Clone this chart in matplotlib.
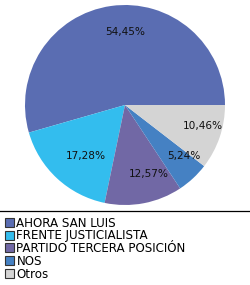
import matplotlib.pyplot as plt
from matplotlib.lines import Line2D
from matplotlib.patches import Rectangle

partidos = ["AHORA SAN LUIS", "FRENTE JUSTICIALISTA", "PARTIDO TERCERA POSICIÓN", "NOS", "Otros"]
porcentajes = [54.45, 17.28, 12.57, 5.24, 10.46]
colores = ["#5A6DB2", "#33BDEE", "#7168A5", "#4581C3", "#D4D4D4"]

W, H = 250, 285
fig = plt.figure(figsize=(W / 100, H / 100), dpi=100)
fig.patch.set_facecolor("white")

# area del grafico de torta
ax = fig.add_axes([25 / W, 1 - 205 / H, 200 / W, 200 / H])
wedges, textos, pcts = ax.pie(
    porcentajes,
    colors=colores,
    startangle=0,
    counterclock=True,
    autopct=lambda p: f"{p:.2f}%".replace(".", ","),
    pctdistance=0.72,
    wedgeprops={"linewidth": 0},
    textprops={"fontsize": 7.6, "color": "#111111"},
)
# las etiquetas del original estan corridas un poco a la derecha
for t in pcts:
    x, y = t.get_position()
    t.set_position((x + 0.1, y + 0.02))
ax.set_xlim(-1, 1)
ax.set_ylim(-1, 1)
ax.set_aspect("equal")
ax.axis("off")

# linea separadora
y_linea = 1 - 210.5 / H
fig.add_artist(Line2D([0, 1], [y_linea, y_linea], color="black", linewidth=0.9))

# leyenda hecha a mano (filas cada ~12.7 px)
for i, (nombre, col) in enumerate(zip(partidos, colores)):
    yc = 222.5 + 12.7 * i
    fig.add_artist(Rectangle((5 / W, 1 - (yc + 4.5) / H), 9 / W, 9 / H,
                             facecolor=col, edgecolor="#333333", linewidth=0.8,
                             transform=fig.transFigure))
    fig.text(16.5 / W, 1 - (yc + 4.2) / H, nombre, fontsize=8.6, color="black",
             va="baseline", ha="left")

fig.savefig("out.png", dpi=100)
